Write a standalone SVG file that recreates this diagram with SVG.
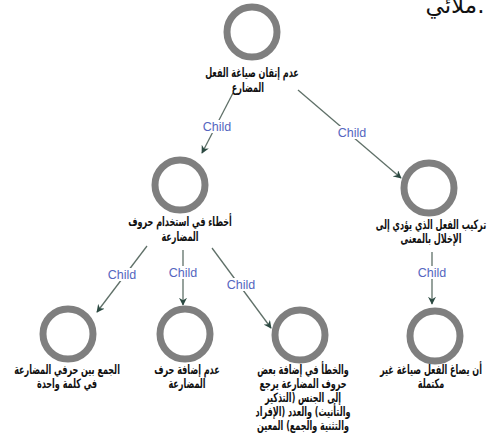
<svg xmlns="http://www.w3.org/2000/svg" width="492" height="443" viewBox="0 0 492 443">
<style>
.ring{fill:none;stroke:#7f7f7f;stroke-width:7}
.lbl{font-family:"DejaVu Sans",sans-serif;font-weight:bold;font-size:13px;fill:#111;text-anchor:middle}
.edge{stroke:#5f7068;stroke-width:1.3;fill:none;marker-end:url(#ah)}
.cl{font-family:"Liberation Sans",Arial,sans-serif;font-size:12.5px;fill:#5566c0;text-anchor:middle}
.bg{fill:#fff}
</style>
<defs>
<marker id="ah" viewBox="0 0 10 10" refX="9" refY="5" markerWidth="8" markerHeight="8" orient="auto" markerUnits="userSpaceOnUse">
<path d="M0,0 L10,5 L0,10 L3,5 z" fill="#2c4a42"/>
</marker>
</defs>
<rect width="492" height="443" fill="#fff"/>
<text x="455" y="13" font-family="DejaVu Sans,sans-serif" font-size="23" fill="#111" text-anchor="middle">ملائي.</text>
<g id="connectors">
<g><line class="edge" x1="233" y1="93" x2="202" y2="153"/><rect class="bg" x="202" y="120" width="30" height="13"/><text class="cl" x="217" y="131">Child</text></g>
<g><line class="edge" x1="298" y1="90" x2="401" y2="178"/><rect class="bg" x="337" y="126" width="30" height="13"/><text class="cl" x="352" y="137">Child</text></g>
<g><line class="edge" x1="147" y1="246" x2="97" y2="312"/><rect class="bg" x="107" y="268" width="30" height="13"/><text class="cl" x="122" y="279">Child</text></g>
<g><line class="edge" x1="183" y1="250" x2="183" y2="305"/><rect class="bg" x="168" y="266" width="30" height="13"/><text class="cl" x="183" y="277">Child</text></g>
<g><line class="edge" x1="212" y1="248" x2="271" y2="328"/><rect class="bg" x="226" y="278" width="30" height="13"/><text class="cl" x="241" y="289">Child</text></g>
<g><line class="edge" x1="432" y1="252" x2="432" y2="304"/><rect class="bg" x="417" y="266" width="30" height="13"/><text class="cl" x="432" y="277">Child</text></g>
</g>
<g id="n0"><circle class="ring" cx="252" cy="32" r="25"/><text class="lbl" transform="translate(252,77) scale(0.62,1)">عدم إتقان صياغة الفعل</text><text class="lbl" transform="translate(248,92) scale(0.62,1)">المضارع</text></g>
<g id="n1"><circle class="ring" cx="180" cy="185" r="25"/><text class="lbl" transform="translate(180,226) scale(0.62,1)">أخطاء في استخدام حروف</text><text class="lbl" transform="translate(180,241) scale(0.62,1)">المضارعة</text></g>
<g id="n2"><circle class="ring" cx="429" cy="188" r="25"/><text class="lbl" transform="translate(431,229) scale(0.62,1)">تركيب الفعل الذي يؤدي إلى</text><text class="lbl" transform="translate(431,243) scale(0.62,1)">الإخلال بالمعنى</text></g>
<g id="n3"><circle class="ring" cx="68" cy="334" r="25"/><text class="lbl" transform="translate(67,374) scale(0.62,1)">الجمع بين حرفي المضارعة</text><text class="lbl" transform="translate(67,388) scale(0.62,1)">في كلمة واحدة</text></g>
<g id="n4"><circle class="ring" cx="185" cy="334" r="25"/><text class="lbl" transform="translate(187,374) scale(0.62,1)">عدم إضافة حرف</text><text class="lbl" transform="translate(187,388) scale(0.62,1)">المضارعة</text></g>
<g id="n5"><circle class="ring" cx="300" cy="335" r="25"/><text class="lbl" transform="translate(303,374) scale(0.62,1)">والخطأ في إضافة بعض</text><text class="lbl" transform="translate(303,388) scale(0.62,1)">حروف المضارعة يرجع</text><text class="lbl" transform="translate(303,402) scale(0.62,1)">إلى الجنس (التذكير</text><text class="lbl" transform="translate(303,416) scale(0.62,1)">والتأنيث) والعدد (الإفراد</text><text class="lbl" transform="translate(303,430) scale(0.62,1)">والتثنية والجمع) المعين</text></g>
<g id="n6"><circle class="ring" cx="435" cy="336" r="25"/><text class="lbl" transform="translate(431,374) scale(0.62,1)">أن يصاغ الفعل صياغة غير</text><text class="lbl" transform="translate(431,388) scale(0.62,1)">مكتملة</text></g>
</svg>
